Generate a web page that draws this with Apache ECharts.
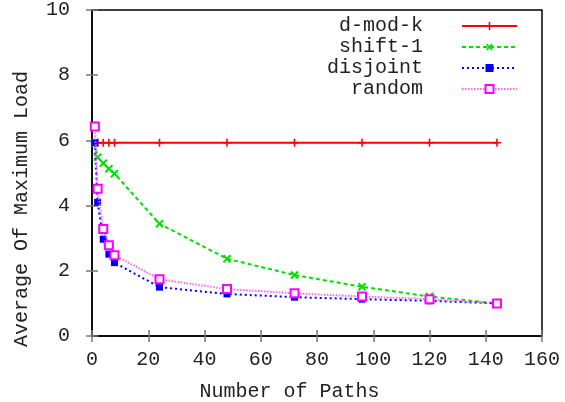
<!DOCTYPE html>
<html>
<head>
<meta charset="utf-8">
<script src="https://cdn.jsdelivr.net/npm/echarts@6/dist/echarts.min.js"></script>
<style>
  html, body { margin: 0; padding: 0; background: #fff; }
  #chart { width: 565px; height: 402px; }
</style>
</head>
<body>
<div id="chart"></div>
<script>
/* data */
var paths = [1, 2, 4, 6, 8, 24, 48, 72, 96, 120, 144];
var dModK = [5.93, 5.93, 5.93, 5.93, 5.93, 5.93, 5.93, 5.93, 5.93, 5.93, 5.93];
var shift1 = [5.93, 5.48, 5.30, 5.13, 4.98, 3.44, 2.37, 1.87, 1.51, 1.21, 1.0];
var disjoint = [5.93, 4.10, 2.97, 2.51, 2.25, 1.50, 1.29, 1.19, 1.13, 1.08, 1.0];
var random = [6.43, 4.52, 3.28, 2.78, 2.48, 1.74, 1.44, 1.31, 1.21, 1.13, 1.0];

var font = 'Liberation Mono, DejaVu Sans Mono, monospace';
var plusPath = 'path://M4,0 H6 V4 H10 V6 H6 V10 H4 V6 H0 V4 H4 Z';

function pairs(ys) {
  return paths.map(function (x, i) { return [x, ys[i]]; });
}

var chartDom = document.getElementById('chart');
var myChart = echarts.init(chartDom);

function legendRow(name, top) {
  return {
    data: [name],
    right: 42,
    top: top,
    align: 'right',
    itemWidth: 55,
    itemHeight: 10,
    selectedMode: false,
    textStyle: {
      fontFamily: font,
      fontSize: 20,
      color: '#222',
      padding: [0, 34, 0, 0]
    }
  };
}

var tickStyle = {
  inside: true,
  length: 6,
  lineStyle: { color: '#777', width: 1.5 }
};

var option = {
  animation: false,
  grid: {
    left: 92,
    right: 23,
    top: 10,
    bottom: 66,
    outerBoundsMode: 'none',
    show: true,
    borderColor: '#000',
    borderWidth: 1.5
  },
  legend: [
    legendRow('d-mod-k', 11),
    legendRow('shift-1', 32),
    legendRow('disjoint', 53),
    legendRow('random', 74)
  ],
  xAxis: [{
    type: 'value',
    min: 0,
    max: 160,
    interval: 20,
    name: 'Number of Paths',
    nameLocation: 'middle',
    nameGap: 46,
    nameTextStyle: { fontFamily: font, fontSize: 20, color: '#222', padding: [0, 55, 0, 0] },
    axisLine: { show: true, lineStyle: { color: '#000', width: 1.5 } },
    axisTick: tickStyle,
    axisLabel: { fontFamily: font, fontSize: 20, color: '#222', margin: 14 },
    splitLine: { show: false }
  }, {
    type: 'value',
    position: 'top',
    min: 0,
    max: 160,
    interval: 20,
    axisLine: { show: false },
    axisTick: tickStyle,
    axisLabel: { show: false },
    splitLine: { show: false }
  }],
  yAxis: [{
    type: 'value',
    min: 0,
    max: 10,
    interval: 2,
    name: 'Average Of Maximum Load',
    nameLocation: 'middle',
    nameGap: 60,
    nameTextStyle: { fontFamily: font, fontSize: 20, color: '#222', padding: [0, 72, 0, 0] },
    axisLine: { show: true, lineStyle: { color: '#000', width: 1.5 } },
    axisTick: tickStyle,
    axisLabel: { fontFamily: font, fontSize: 20, color: '#222', margin: 22 },
    splitLine: { show: false }
  }, {
    type: 'value',
    position: 'right',
    min: 0,
    max: 10,
    interval: 2,
    axisLine: { show: false },
    axisTick: tickStyle,
    axisLabel: { show: false },
    splitLine: { show: false }
  }],
  series: [{
    name: 'd-mod-k',
    type: 'line',
    data: pairs(dModK),
    symbol: plusPath,
    symbolSize: 8,
    lineStyle: { color: '#ff0000', width: 2 },
    itemStyle: { color: '#ff0000' },
    z: 5
  }, {
    name: 'shift-1',
    type: 'line',
    data: pairs(shift1),
    symbol: plusPath,
    symbolSize: 10,
    symbolRotate: 45,
    lineStyle: { color: '#00e000', width: 2, type: [4, 3] },
    itemStyle: { color: '#00e000' },
    z: 4
  }, {
    name: 'disjoint',
    type: 'line',
    data: pairs(disjoint),
    symbol: 'rect',
    symbolSize: 7,
    lineStyle: { color: '#0000ff', width: 2, type: [2, 3] },
    itemStyle: { color: '#0000ff' },
    z: 6
  }, {
    name: 'random',
    type: 'line',
    data: pairs(random),
    symbol: 'emptyRect',
    symbolSize: 8,
    lineStyle: { color: '#ff66ff', width: 2, type: [1.5, 1.5] },
    itemStyle: { color: '#ff00ff', borderColor: '#ff00ff', borderWidth: 2 },
    z: 7
  }]
};

option && myChart.setOption(option);
</script>
</body>
</html>
